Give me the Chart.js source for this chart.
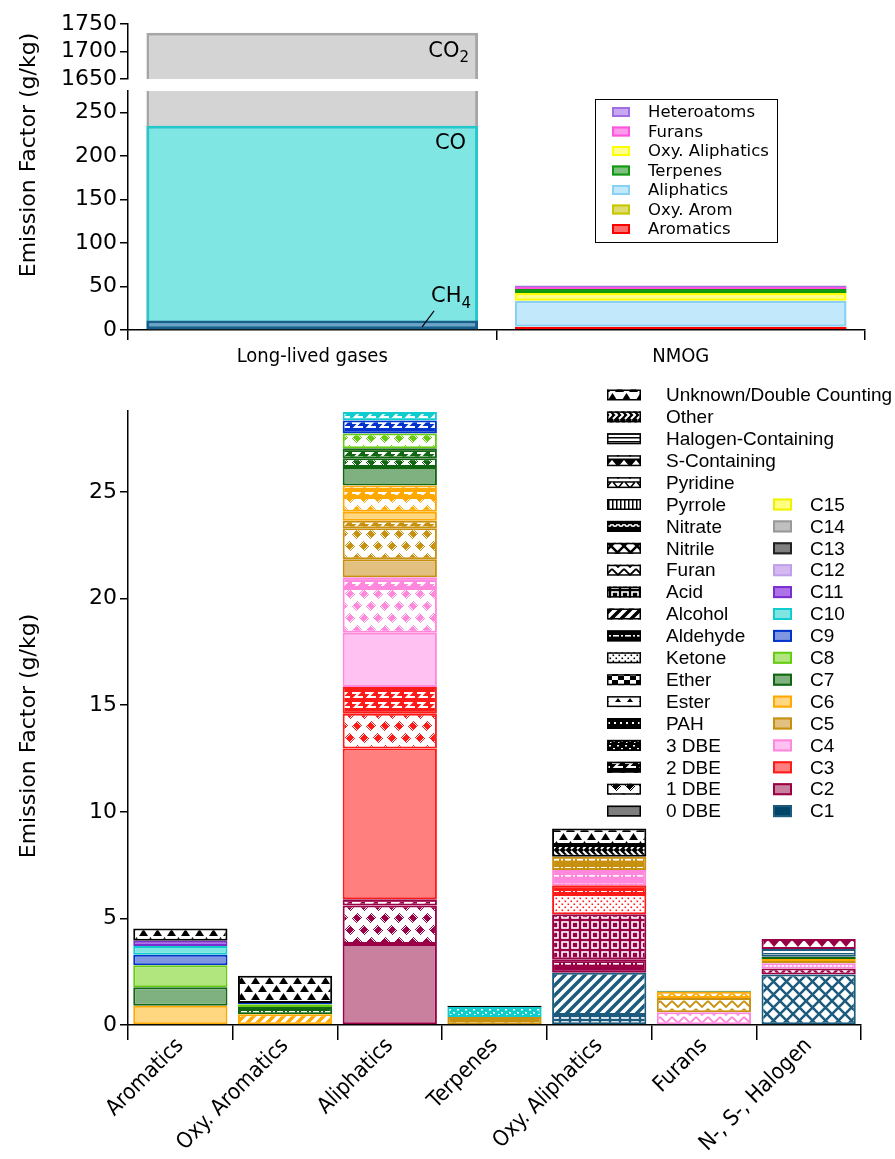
<!DOCTYPE html>
<html><head><meta charset="utf-8">
<script src="https://cdn.jsdelivr.net/npm/chart.js@4.4.1/dist/chart.umd.min.js"></script>
<style>
html,body{margin:0;padding:0;background:#fff;}
#wrap{position:relative;width:895px;height:1159px;overflow:hidden;background:#fff;}
.cv{position:absolute;left:0;top:0;width:895px;height:1159px;}
.ytitle{position:absolute;font-family:'DejaVu Sans',sans-serif;font-size:22px;color:#000;white-space:nowrap;transform:translate(-50%,-50%) rotate(-90deg);}
</style></head><body>
<div id="wrap">
<div class="cv"><canvas id="cTopHigh"></canvas></div>
<div class="cv"><canvas id="cTopLow"></canvas></div>
<div class="cv"><canvas id="cBottom"></canvas></div>
<div class="ytitle" style="left:27px;top:155px">Emission Factor (g/kg)</div>
<div class="ytitle" style="left:27px;top:736px">Emission Factor (g/kg)</div>
</div>
<script>
// ---------------- DATA ----------------
const topCategories = ['Long-lived gases', 'NMOG'];
const gasNames = ['CH4', 'CO', 'CO2'];
const gasValues = [11, 235, 1734];
const nmogClasses = ['Aromatics', 'Oxy. Arom', 'Aliphatics', 'Oxy. Aliphatics', 'Terpenes', 'Furans', 'Heteroatoms'];
const nmogValues = [3.4, 0.3, 30.0, 8.9, 4.6, 2.3, 1.8];
const topLegendOrder = ['Heteroatoms', 'Furans', 'Oxy. Aliphatics', 'Terpenes', 'Aliphatics', 'Oxy. Arom', 'Aromatics'];
const upperTicks = [1650, 1700, 1750];
const lowerTicks = [0, 50, 100, 150, 200, 250];

const categories = ['Aromatics', 'Oxy. Aromatics', 'Aliphatics', 'Terpenes', 'Oxy. Aliphatics', 'Furans', 'N-, S-, Halogen'];
// [carbon number, functional group, EF g/kg] from bottom to top
const aromatics = [['C6','0 DBE',0.90],['C7','0 DBE',0.87],['C8','0 DBE',1.03],['C9','0 DBE',0.50],['C10','0 DBE',0.40],['C11','0 DBE',0.25],[null,'Unknown/Double Counting',0.58]];
const oxyAromatics = [['C6','Alcohol',0.50],['C7','Aldehyde',0.35],['C8','0 DBE',0.12],['C9','0 DBE',0.06],[null,'Unknown/Double Counting',1.28]];
const aliphatics = [['C2','0 DBE',3.80],['C2','1 DBE',1.80],['C2','2 DBE',0.30],['C3','0 DBE',7.07],['C3','1 DBE',1.63],['C3','2 DBE',1.25],
  ['C4','0 DBE',2.55],['C4','1 DBE',2.10],['C4','2 DBE',0.50],['C5','0 DBE',0.85],['C5','1 DBE',1.45],['C5','2 DBE',0.35],
  ['C6','0 DBE',0.42],['C6','1 DBE',0.70],['C6','2 DBE',0.53],['C7','0 DBE',0.87],['C7','1 DBE',0.41],['C7','2 DBE',0.47],
  ['C8','1 DBE',0.70],['C9','2 DBE',0.61],['C10','2 DBE',0.39]];
const terpenes = [['C5','2 DBE',0.38],['C10','3 DBE',0.47],[null,'Other',0.05]];
const oxyAliphatics = [['C1','Acid',0.47],['C1','Alcohol',1.98],['C2','Aldehyde',0.63],['C2','Acid',2.12],['C3','Ketone',0.95],['C3','Aldehyde',0.41],
  ['C4','Aldehyde',0.71],['C5','Aldehyde',0.62],[null,'Other',0.55],[null,'Unknown/Double Counting',0.78]];
const furans = [['C4','Furan',0.60],['C5','Furan',0.67],['C6','Furan',0.29],['C7','Furan',0.05]];
const heteroatoms = [['C1','Nitrile',2.37],['C2','Nitrile',0.28],['C4','Pyrrole',0.25],['C5','Pyridine',0.10],['C6','Pyridine',0.10],['C7','Pyridine',0.10],
  ['C1','Halogen-Containing',0.36],['C2','S-Containing',0.47]];
const bottomTicks = [0, 5, 10, 15, 20, 25];

const legendGroups = ['Unknown/Double Counting','Other','Halogen-Containing','S-Containing','Pyridine','Pyrrole','Nitrate','Nitrile','Furan','Acid',
  'Alcohol','Aldehyde','Ketone','Ether','Ester','PAH','3 DBE','2 DBE','1 DBE','0 DBE'];
const carbonNames = ['C1','C2','C3','C4','C5','C6','C7','C8','C9','C10','C11','C12','C13','C14','C15'];

// ---------------- STYLES ----------------
const carbonFill = ['#00466A','#C97F9E','#FF7F7F','#FFC0F2','#E2C07F','#FFD780','#7FB07F','#B1E57D','#7F96E0','#7FE5E3','#AE72E8','#D5B8F2','#7F7F7F','#C0C0C0','#FFFF7F'];
const carbonEdge = ['#1C5B7D','#9A0045','#FF1A1A','#FF88DD','#C8900F','#FFA800','#116611','#66CC11','#0033CC','#11CCCC','#7A2ED0','#BFA0E8','#222222','#999999','#F0F000'];
const gasFill = ['#6FA2C6','#80E6E3','#D4D4D4'];
const gasEdge = ['#1A5E8C','#22C8CC','#A6A6A6'];
const nmogFill = ['#FF6A6A','#DCDC70','#C2E8FB','#FFFF90','#7FC07F','#FF9BEA','#C8A8F0'];
const nmogEdge = ['#FF0000','#C8C800','#88D0F5','#FFFF00','#119911','#FF55DD','#A070E0'];

Chart.defaults.font.family = "'DejaVu Sans', sans-serif";
Chart.defaults.color = '#000';
Chart.defaults.animation = false;

function bg(g, c, w, h){ g.fillStyle = c; g.fillRect(0, 0, w, h); }
function poly(g, pts, c){ g.fillStyle = c; g.beginPath(); g.moveTo(pts[0], pts[1]); for (let i = 2; i < pts.length; i += 2) g.lineTo(pts[i], pts[i+1]); g.closePath(); g.fill(); }
function lines(g, paths, lw, c){ g.strokeStyle = c; g.lineWidth = lw; g.beginPath(); for (const p of paths){ g.moveTo(p[0], p[1]); for (let i = 2; i < p.length; i += 2) g.lineTo(p[i], p[i+1]); } g.stroke(); }
function checkerDiamonds(g, fg, w, h, centers, r){
  g.fillStyle = fg;
  for (let y = 0; y < h; y++) for (let x = 0; x < w; x++) {
    for (const [cx, cy] of centers) {
      const d = Math.abs(x + 0.5 - cx) + Math.abs(y + 0.5 - cy);
      if (d <= r && (d <= 3.5 || (x + y) % 2 === 0)) { g.fillRect(x, y, 1, 1); break; }
    }
  }
}
const PAT = {
  'Unknown/Double Counting': {w:14, h:16, draw(g, fg){ bg(g,'#fff',14,16); poly(g,[-1,8,3.5,1,8,8],fg); poly(g,[6,16,10.5,9,15,16],fg); poly(g,[13,8,17.5,1,22,8],fg); poly(g,[-8,16,-3.5,9,1,16],fg); }},
  'Other': {w:12, h:10, draw(g, fg){ bg(g,fg,12,10); lines(g,[[1,1,5,5,1,9],[7,1,11,5,7,9]],2,'#fff'); }},
  'Halogen-Containing': {w:4, h:4, draw(g, fg){ bg(g,'#fff',4,4); g.fillStyle = fg; g.fillRect(0,1,4,1.5); }},
  'S-Containing': {w:12, h:10, draw(g, fg){ bg(g,'#fff',12,10); poly(g,[0,0,12,0,6,7],fg); g.fillStyle = fg; g.fillRect(0,8.5,12,1.5); }},
  'Pyridine': {w:12, h:10, draw(g, fg){ bg(g,'#fff',12,10); g.strokeStyle = fg; g.lineWidth = 1.5; g.beginPath(); g.moveTo(1,2); g.lineTo(11,2); g.lineTo(6,8); g.closePath(); g.stroke(); }},
  'Pyrrole': {w:4, h:4, draw(g, fg){ bg(g,'#fff',4,4); g.fillStyle = fg; g.fillRect(0,0,1.5,4); }},
  'Nitrate': {w:12, h:10, draw(g, fg){ bg(g,fg,12,10); g.strokeStyle = '#fff'; g.lineWidth = 1.5; g.beginPath(); g.arc(3,4,2.2,0,Math.PI); g.moveTo(11.2,4); g.arc(9,4,2.2,0,Math.PI); g.stroke(); }},
  'Nitrile': {w:13, h:13, draw(g, fg){ bg(g,'#fff',13,13); lines(g,[[-1,-1,14,14],[-1,14,14,-1]],2.5,fg); }},
  'Furan': {w:12, h:8, draw(g, fg){ bg(g,'#fff',12,8); lines(g,[[0,1,6,7,12,1]],1.8,fg); }},
  'Acid': {w:10, h:10, draw(g, fg){ bg(g,fg,10,10); g.strokeStyle = '#fff'; g.lineWidth = 1.6; g.strokeRect(2,2,6,6); }},
  'Alcohol': {w:10, h:10, draw(g, fg){ bg(g,'#fff',10,10); lines(g,[[-2,12,12,-2],[-2,2,2,-2],[8,12,12,8]],3.5,fg); }},
  'Aldehyde': {w:12, h:8, draw(g, fg){ bg(g,fg,12,8); g.fillStyle = '#fff'; g.fillRect(1,3,6,1.6); g.fillRect(9,3,2,1.6); }},
  'Ketone': {w:6, h:6, draw(g, fg){ bg(g,'#fff',6,6); g.fillStyle = fg; g.fillRect(0.5,0.5,1.6,1.6); g.fillRect(3.5,3.5,1.6,1.6); }},
  'Ether': {w:12, h:8, draw(g, fg){ bg(g,'#fff',12,8); g.fillStyle = fg; g.fillRect(0,0,6,4); g.fillRect(6,4,6,4); }},
  'Ester': {w:12, h:8, draw(g, fg){ bg(g,'#fff',12,8); poly(g,[3,6,6,2,9,6],fg); }},
  'PAH': {w:6, h:6, draw(g, fg){ bg(g,fg,6,6); g.fillStyle = '#fff'; g.fillRect(2,2,2,2); }},
  '3 DBE': {w:8, h:8, draw(g, fg){ bg(g,fg,8,8); g.fillStyle = '#fff'; g.fillRect(1,1,2,1.5); g.fillRect(5,4,2,1.5); g.fillRect(2,6,1.5,1); }},
  '2 DBE': {w:13, h:10, draw(g, fg){ bg(g,fg,13,10); lines(g,[[1,3,8,3,4,7,12,7]],2,'#fff'); }},
  '1 DBE': {w:14, h:24, draw(g, fg){ bg(g,'#fff',14,24); checkerDiamonds(g, fg, 14, 24, [[7,6],[0,18],[14,18],[7,-6],[7,30]], 5.8); }}
};
const patCtx = document.createElement('canvas').getContext('2d');
const patCache = {};
function getPattern(group, fg){
  const key = group + '|' + fg;
  if (patCache[key]) return patCache[key];
  const def = PAT[group];
  const c = document.createElement('canvas'); c.width = def.w; c.height = def.h;
  def.draw(c.getContext('2d'), fg, def.w, def.h);
  patCache[key] = patCtx.createPattern(c, 'repeat');
  return patCache[key];
}
function segStyle(seg){
  const ci = seg[0] ? carbonNames.indexOf(seg[0]) : -1;
  const edge = ci >= 0 ? carbonEdge[ci] : '#000000';
  const fill = ci >= 0 ? carbonFill[ci] : '#ffffff';
  if (seg[1] === '0 DBE') return {bg: fill, border: edge};
  return {bg: getPattern(seg[1], edge), border: edge};
}

const tickFont = {family: "'DejaVu Sans', sans-serif", size: 22};
function yAxis(min, max, step, fixedTicks){
  return {
    min, max, afterFit(s){ s.width = 128; },
    afterBuildTicks(s){ s.ticks = fixedTicks.map(v => ({value: v})); },
    ticks: {stepSize: step, includeBounds: false, autoSkip: false, font: tickFont, color: '#000', padding: 3,
      callback: v => String(v)},
    grid: {drawOnChartArea: false, drawTicks: true, tickLength: 8, color: '#000', lineWidth: 1.5},
    border: {display: true, color: '#000', width: 1.5}
  };
}

// ---------------- TOP (upper break) ----------------
function drawSub(ctx, main, sub, right, y){
  ctx.save();
  ctx.fillStyle = '#000'; ctx.textBaseline = 'middle'; ctx.textAlign = 'left';
  ctx.font = "21px 'DejaVu Sans', sans-serif"; const w1 = ctx.measureText(main).width;
  ctx.font = "15px 'DejaVu Sans', sans-serif"; const w2 = ctx.measureText(sub).width;
  const x0 = right - w1 - w2;
  ctx.font = "21px 'DejaVu Sans', sans-serif"; ctx.fillText(main, x0, y);
  ctx.font = "15px 'DejaVu Sans', sans-serif"; ctx.fillText(sub, x0 + w1, y + 7);
  ctx.restore();
}
const labelPlugHigh = {
  id: 'labHigh',
  afterDatasetsDraw(chart){
    const ctx = chart.ctx; const el = chart.getDatasetMeta(0).data[0];
    const right = el.x + el.width / 2 - 9;
    drawSub(ctx, 'CO', '2', right, chart.scales.y.getPixelForValue(1700));
  }
};
new Chart(document.getElementById('cTopHigh'), {
  type: 'bar',
  data: {labels: topCategories, datasets: [{label: gasNames[2], data: [gasValues[2], null],
    backgroundColor: gasFill[2], borderColor: gasEdge[2], borderWidth: 3, borderSkipped: false, clip: 0,
    barPercentage: 0.9, categoryPercentage: 1}]},
  options: {responsive: true, maintainAspectRatio: false,
    layout: {padding: {top: 24, bottom: 1080, left: 0, right: 30}},
    plugins: {legend: {display: false}, tooltip: {enabled: false}},
    scales: {x: {display: false}, y: yAxis(1650, 1750, 50, upperTicks)}},
  plugins: [labelPlugHigh]
});

// ---------------- TOP (lower part) ----------------
const topLowPlug = {
  id: 'topLow',
  afterDatasetsDraw(chart){
    const ctx = chart.ctx; const ys = chart.scales.y;
    const el = chart.getDatasetMeta(1).data[0];
    const right = el.x + el.width / 2;
    ctx.save();
    ctx.fillStyle = '#000'; ctx.textBaseline = 'middle'; ctx.textAlign = 'right';
    ctx.font = "21px 'DejaVu Sans', sans-serif";
    ctx.fillText('CO', right - 12, ys.getPixelForValue(215));
    ctx.restore();
    drawSub(ctx, 'CH', '4', right - 7, ys.getPixelForValue(38));
    ctx.save(); ctx.strokeStyle = '#000'; ctx.lineWidth = 1.2; ctx.beginPath();
    ctx.moveTo(right - 44, ys.getPixelForValue(22)); ctx.lineTo(right - 56, ys.getPixelForValue(3.5)); ctx.stroke(); ctx.restore();
    // legend box
    const bx = 595.5, by = 99.5, bw = 182, bh = 143;
    ctx.save();
    ctx.fillStyle = '#fff'; ctx.fillRect(bx, by, bw, bh);
    ctx.strokeStyle = '#000'; ctx.lineWidth = 1; ctx.strokeRect(bx, by, bw, bh);
    ctx.font = "16.5px 'DejaVu Sans', sans-serif"; ctx.textBaseline = 'middle'; ctx.textAlign = 'left';
    topLegendOrder.forEach((name, i) => {
      const k = nmogClasses.indexOf(name); const y = 112 + i * 19.5;
      ctx.fillStyle = nmogFill[k]; ctx.fillRect(612, y - 5, 18, 10);
      ctx.strokeStyle = nmogEdge[k]; ctx.lineWidth = 2; ctx.strokeRect(613, y - 4, 16, 8);
      ctx.fillStyle = '#000'; ctx.fillText(name, 648, y + 1);
    });
    ctx.restore();
  }
};
const topLowDatasets = [];
gasNames.forEach((n, i) => topLowDatasets.push({label: n, data: [gasValues[i], null], stack: n, grouped: false,
  backgroundColor: gasFill[i], borderColor: gasEdge[i], borderWidth: 3, borderSkipped: false, clip: 0,
  barPercentage: 0.9, categoryPercentage: 1}));
nmogClasses.forEach((n, i) => topLowDatasets.push({label: n, data: [null, nmogValues[i]], stack: 'nmog', grouped: false,
  backgroundColor: nmogFill[i], borderColor: nmogEdge[i], borderWidth: 2.5, borderSkipped: false, clip: 0,
  barPercentage: 0.9, categoryPercentage: 1}));
new Chart(document.getElementById('cTopLow'), {
  type: 'bar',
  data: {labels: topCategories, datasets: topLowDatasets},
  options: {responsive: true, maintainAspectRatio: false,
    layout: {padding: {top: 91, bottom: 789, left: 0, right: 30}},
    plugins: {legend: {display: false}, tooltip: {enabled: false}},
    scales: {
      x: {stacked: false, offset: true, afterFit(s){ s.height = 40; },
        ticks: {font: {family: "'DejaVu Sans Condensed','DejaVu Sans',sans-serif", size: 20}, color: '#000', maxRotation: 0, minRotation: 0, padding: 5},
        grid: {drawOnChartArea: false, drawTicks: true, tickLength: 10, color: '#000', lineWidth: 1.5, offset: true},
        border: {display: true, color: '#000', width: 1.5}},
      y: Object.assign(yAxis(0, 275, 50, lowerTicks), {stacked: true})
    }},
  plugins: [topLowPlug]
});

// ---------------- BOTTOM ----------------
const segLists = [aromatics, oxyAromatics, aliphatics, terpenes, oxyAliphatics, furans, heteroatoms];
const nLayers = Math.max(...segLists.map(s => s.length));
const bottomDatasets = [];
for (let k = 0; k < nLayers; k++) {
  const data = [], bgc = [], bdc = [];
  segLists.forEach(list => {
    const seg = list[k];
    if (seg) { const st = segStyle(seg); data.push(seg[2]); bgc.push(st.bg); bdc.push(st.border); }
    else { data.push(null); bgc.push('#fff'); bdc.push('#fff'); }
  });
  bottomDatasets.push({label: 'layer ' + k, data, backgroundColor: bgc, borderColor: bdc, borderWidth: 2,
    borderSkipped: false, barPercentage: 0.9, categoryPercentage: 1});
}
const bottomLegendPlug = {
  id: 'botLeg',
  afterDraw(chart){
    const ctx = chart.ctx;
    ctx.save();
    ctx.font = "19px 'Liberation Sans', Arial, sans-serif"; ctx.textBaseline = 'middle'; ctx.textAlign = 'left';
    legendGroups.forEach((gname, i) => {
      const y = 395 + i * 21.9;
      if (gname === '0 DBE') ctx.fillStyle = '#7F7F7F'; else ctx.fillStyle = getPattern(gname, '#000000');
      ctx.fillRect(607, y - 5.5, 34, 11);
      ctx.strokeStyle = '#000'; ctx.lineWidth = 1.5; ctx.strokeRect(607.75, y - 4.75, 32.5, 9.5);
      ctx.fillStyle = '#000'; ctx.fillText(gname, 666, y + 1);
    });
    for (let j = 0; j < 15; j++) {
      const ci = 14 - j; const y = 395 + (j + 5) * 21.9;
      ctx.fillStyle = carbonFill[ci]; ctx.fillRect(773, y - 6, 19, 12);
      ctx.strokeStyle = carbonEdge[ci]; ctx.lineWidth = 2; ctx.strokeRect(774, y - 5, 17, 10);
      ctx.fillStyle = '#000'; ctx.fillText(carbonNames[ci], 810, y + 1);
    }
    ctx.restore();
  }
};
new Chart(document.getElementById('cBottom'), {
  type: 'bar',
  data: {labels: categories, datasets: bottomDatasets},
  options: {responsive: true, maintainAspectRatio: false,
    layout: {padding: {top: 411, bottom: 0, left: 0, right: 34}},
    plugins: {legend: {display: false}, tooltip: {enabled: false}},
    scales: {
      x: {stacked: true, offset: true, afterFit(s){ s.height = 134; },
        ticks: {font: {family: "'DejaVu Sans Condensed','DejaVu Sans',sans-serif", size: 22}, color: '#000', maxRotation: 45, minRotation: 45, autoSkip: false, padding: -7},
        grid: {drawOnChartArea: false, drawTicks: true, tickLength: 15, color: '#000', lineWidth: 1.5, offset: true},
        border: {display: true, color: '#000', width: 1.5}},
      y: Object.assign(yAxis(0, 28.8, 5, bottomTicks), {stacked: true})
    }},
  plugins: [bottomLegendPlug]
});
</script>
</body></html>
